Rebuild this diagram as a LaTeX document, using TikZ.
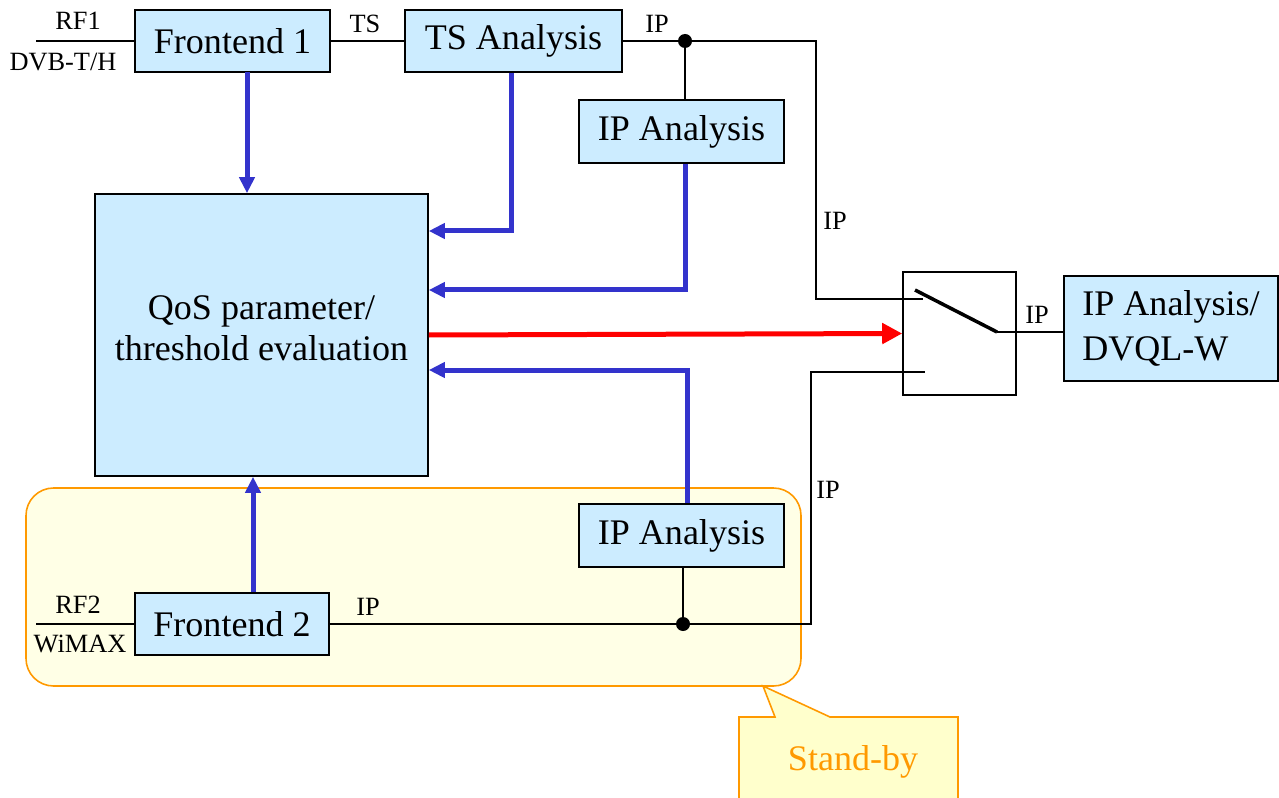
\documentclass[tikz,border=0pt]{standalone}
\usepackage{fontspec}
\setmainfont{Liberation Serif}
\usepackage{tikz}
\usetikzlibrary{arrows.meta,positioning,calc}
\definecolor{boxblue}{HTML}{CCECFF}
\definecolor{flowblue}{HTML}{3333CC}
\definecolor{standbyfill}{HTML}{FFFFE6}
\definecolor{calloutfill}{HTML}{FFFFCC}
\definecolor{standbyline}{HTML}{FF9900}

\begin{document}
\begin{tikzpicture}[x=0.2mm, y=-0.2mm,
  blk/.style={draw, fill=boxblue, line width=0.9pt, inner sep=0pt,
              font=\fontsize{20.5}{23}\selectfont, align=center},
  lbl/.style={font=\fontsize{15}{16}\selectfont, inner sep=0pt},
  wire/.style={line width=0.9pt},
  flow/.style={-{Triangle[length=3.2mm, width=3mm]}, draw=flowblue, line width=1mm},
  alarm/.style={-{Triangle[length=4mm, width=4mm]}, draw=red, line width=1mm},
  dot/.style={circle, fill=black, inner sep=0pt, minimum size=2.8mm}
]
\useasboundingbox (0,0) rectangle (1279,798);

% stand-by group
\draw[draw=standbyline, fill=standbyfill, line width=0.9pt, rounded corners=5.5mm]
  (26,488) rectangle (801,686);
\draw[draw=standbyline, fill=calloutfill, line width=0.9pt]
  (763,686) -- (830,717) -- (958,717) -- (958,830) -- (739,830) -- (739,717) -- (775,717) -- cycle;
\node[font=\fontsize{20.5}{23}\selectfont, text=standbyline] (stby) at (853,762) {Stand-by};

% blocks
\node[blk, minimum width=39mm, minimum height=12.4mm] (fe1) at (232.5,41) {Frontend 1};
\node[blk, minimum width=43.4mm, minimum height=12.4mm] (tsa) at (513.5,41) {TS Analysis};
\node[blk, minimum width=41mm, minimum height=12.6mm] (ipa1) at (681.5,131.5) {IP Analysis};
\node[blk, minimum width=66.6mm, minimum height=56.4mm, text depth=8pt] (qos) at (261.5,335)
  {QoS parameter/\\threshold evaluation};
\node[draw, line width=0.9pt, minimum width=22.6mm, minimum height=24.6mm] (sw) at (959.5,333.5) {};
\node[blk, align=left, minimum width=42.8mm, minimum height=21mm,
      font=\fontsize{20.5}{25.5}\selectfont] (dvql) at (1171,328.5) {IP Analysis/\\DVQL-W};
\node[blk, minimum width=41mm, minimum height=12.6mm] (ipa2) at (681.5,535.5) {IP Analysis};
\node[blk, minimum width=38.8mm, minimum height=12.4mm] (fe2) at (232,624) {Frontend 2};

% junctions and switch contacts
\node[dot] (j1) at (685,41) {};
\node[dot] (j2) at (683,624) {};
\coordinate (rf1) at (36,41);
\coordinate (rf2) at (36,624);
\coordinate (ripA) at (816,41);
\coordinate (ripB) at (811,624);
\coordinate (swin1) at (923,299);
\coordinate (swin2) at (925,372);
\coordinate (swarm) at (915,290);
\coordinate (swout) at (997,332);

% signal wires
\draw[wire] (rf1) -- (fe1);
\draw[wire] (fe1) -- (tsa);
\draw[wire] (tsa) -- (j1) -- (ripA) |- (swin1);
\draw[wire] (j1) -- (j1 |- ipa1.north);
\draw[wire] (rf2) -- (fe2);
\draw[wire] (fe2) -- (j2) -- (ripB) |- (swin2);
\draw[wire] (j2) -- (j2 |- ipa2.south);
\draw[line width=2pt] (swarm) -- (swout);
\draw[wire] (swout) -- (swout -| dvql.west);

\node[lbl] (lrf1) at (78,21) {RF1};
\node[lbl] (ldvb) at (63,62) {DVB-T/H};
\node[lbl] (lts) at (365,24) {TS};
\node[lbl] (lip1) at (657,24) {IP};
\node[lbl] (lip2) at (835,221) {IP};
\node[lbl] (lip3) at (1037,315) {IP};
\node[lbl] (lip4) at (828,490) {IP};
\node[lbl] (lip5) at (368,607) {IP};
\node[lbl] (lrf2) at (78,605) {RF2};
\node[lbl] (lwimax) at (80,644) {WiMAX};

% measurement flows
\coordinate (a1) at (247,72);
\coordinate (a5) at (253,592);
\draw[flow] (a1) -- (a1 |- qos.north);
\draw[flow] (tsa.south -| 511,0) |- ([yshift=20.8mm]qos.east);
\draw[flow] (ipa1.south -| j1) |- ([yshift=9mm]qos.east);
\draw[flow] (ipa2.north -| 687,0) |- ([yshift=-7mm]qos.east);
\draw[flow] (a5) -- (a5 |- qos.south);
\draw[alarm] (qos.east) -- (sw.west);
\end{tikzpicture}
\end{document}
